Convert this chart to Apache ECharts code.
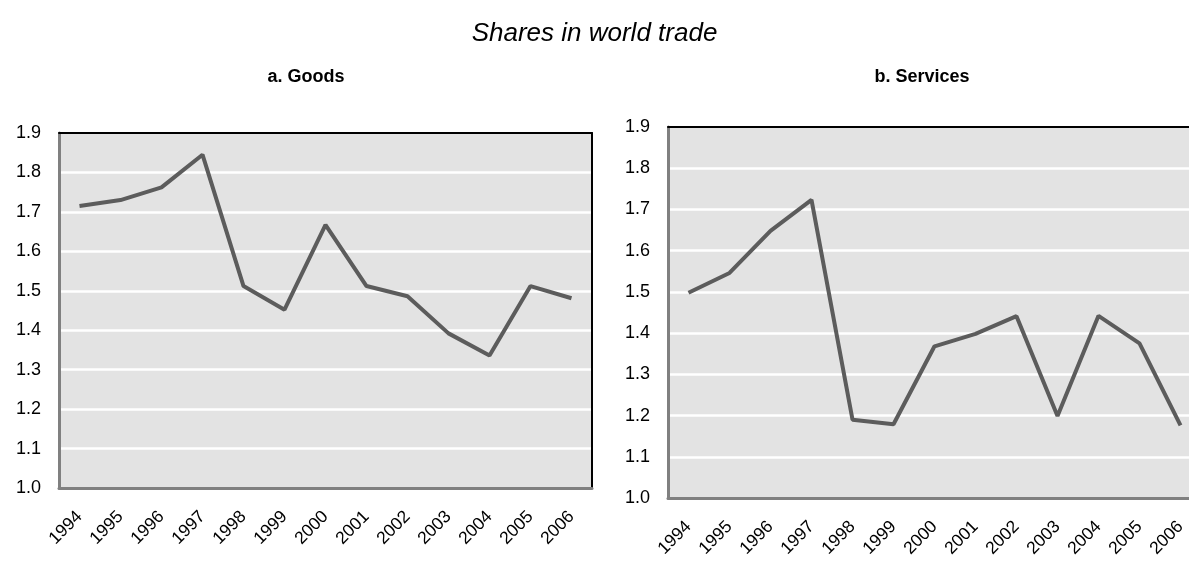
<!DOCTYPE html>
<html><head><meta charset="utf-8">
<script src="https://cdn.jsdelivr.net/npm/echarts@6/dist/echarts.min.js"></script>
<style>html,body{margin:0;padding:0;background:#fff}#c{width:1189px;height:561px}</style>
</head><body><div id="c"></div>
<script>
const years = ['1994','1995','1996','1997','1998','1999','2000','2001','2002','2003','2004','2005','2006'];
const goods = [1.715,1.73,1.762,1.845,1.512,1.452,1.667,1.512,1.486,1.392,1.336,1.512,1.481];
const services = [1.498,1.546,1.648,1.723,1.19,1.179,1.368,1.398,1.441,1.199,1.442,1.375,1.176];
const yTicks = {min:1.0, max:1.9, interval:0.1};
const chartTitle = 'Shares in world trade';
const panelTitles = ['a. Goods','b. Services'];

const FONT = '"Liberation Sans", Arial, sans-serif';
const grids = [
  {left:59, top:133, right:597, bottom:73},
  {left:668, top:127, right:-12, bottom:63}
];
const xAxes = [], yAxes = [], series = [];
grids.forEach((g,i)=>{
  g.show = true; g.backgroundColor = '#e3e3e3'; g.borderWidth = 0; g.containLabel = false; g.outerBoundsMode = 'none';
  xAxes.push({gridIndex:i, type:'category', data:years, boundaryGap:true,
    axisLine:{lineStyle:{color:'#808080', width:3}},
    axisTick:{inside:true, length:5, lineStyle:{color:'#808080', width:2}},
    axisLabel:{rotate:45, fontSize:17.5, color:'#000', fontFamily:FONT, margin:26, interval:0},
    splitLine:{show:false}});
  xAxes.push({gridIndex:i, type:'category', data:years, position:'top',
    axisLine:{lineStyle:{color:'#000', width:2}}, axisTick:{show:false}, axisLabel:{show:false}});
  yAxes.push({gridIndex:i, type:'value', min:yTicks.min, max:yTicks.max, interval:yTicks.interval,
    axisLine:{show:true, lineStyle:{color:'#808080', width:3}},
    axisTick:{show:false},
    axisLabel:{fontSize:18, color:'#000', fontFamily:FONT, margin:18, formatter:v=>v.toFixed(1)},
    splitLine:{show:true, showMaxLine:false, lineStyle:{color:'#ffffff', width:2.5}}});
  yAxes.push({gridIndex:i, type:'value', position:'right', min:yTicks.min, max:yTicks.max, interval:yTicks.interval,
    axisLine:{show:true, lineStyle:{color:'#000', width:2}}, axisTick:{show:false}, axisLabel:{show:false}, splitLine:{show:false}});
  series.push({type:'line', xAxisIndex:i*2, yAxisIndex:i*2, data: i===0?goods:services,
    symbol:'none', lineStyle:{color:'#5c5c5c', width:4}, z:5});
});
const chart = echarts.init(document.getElementById('c'));
chart.setOption({
  animation:false,
  title:[
    {text:chartTitle, left:'center', top:21, padding:0, textStyle:{fontSize:26, fontStyle:'italic', fontWeight:'normal', color:'#000', fontFamily:FONT}},
    {text:panelTitles[0], left:306, textAlign:'center', top:68, padding:0, textStyle:{fontSize:18, fontWeight:'bold', color:'#000', fontFamily:FONT}},
    {text:panelTitles[1], left:922, textAlign:'center', top:68, padding:0, textStyle:{fontSize:18, fontWeight:'bold', color:'#000', fontFamily:FONT}}
  ],
  grid:grids, xAxis:xAxes, yAxis:yAxes, series:series
});
</script></body></html>
